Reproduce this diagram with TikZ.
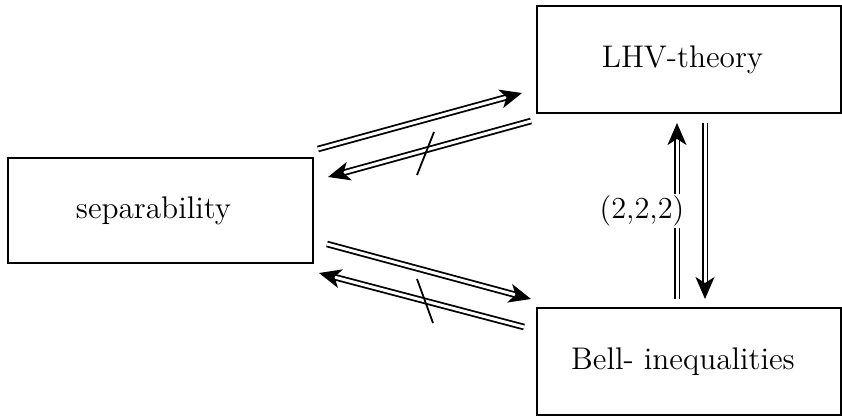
\documentclass[tikz,border=0pt]{standalone}
\usepackage{fontspec}
\setmainfont{lmroman12-regular}[Extension=.otf]
\usetikzlibrary{arrows.meta,calc}
\begin{document}
\begin{tikzpicture}[x=1pt,y=-1pt,
  box/.style={draw, line width=2pt, minimum width=304pt, minimum height=106pt, inner sep=0pt, font=\fontsize{31.3}{37}\selectfont},
  dbl/.style={double, double distance=3pt, line width=1.8pt, -{Stealth[length=22pt, width=19pt, inset=6pt]}},
  slash/.style={line width=1.8pt},
  lbl/.style={fill=white, inner sep=2pt, font=\fontsize{30.5}{36}\selectfont}]
\useasboundingbox (0,0) rectangle (842,416);
\node[box, minimum width=305pt, minimum height=105pt] (sep) at (160.5,210.5) {\hspace*{-14pt}separability};
\node[box, minimum height=107pt] (lhv) at (689,59.5) {\hspace*{-13pt}LHV-theory};
\node[box, minimum height=107pt] (bell) at (689,361.5) {\hspace*{-12pt}Bell- inequalities};
% separability <-> LHV
\draw[dbl] ($(sep.north east)+(4,-8)$) -- ($(lhv.south west)+(-14,-21)$);
\draw[dbl] ($(lhv.south west)+(-5,7)$) coordinate (a2s) -- ($(sep.north east)+(14,20)$) coordinate (a2e);
\coordinate (m2) at ($(a2s)!0.5!(a2e)$);
\draw[slash] ($(m2)+(-12.5,26)$) -- ($(m2)+(4.5,-17)$);
% separability <-> Bell
\draw[dbl] ($(sep.south east)+(13,-20)$) -- ($(bell.north west)+(-5,-8)$);
\draw[dbl] ($(bell.north west)+(-12,20)$) coordinate (a4s) -- ($(sep.south east)+(5,9)$) coordinate (a4e);
\coordinate (m4) at ($(a4s)!0.5!(a4e)$);
\draw[slash] ($(m4)+(-4.5,-21)$) -- ($(m4)+(11.5,23)$);
% LHV <-> Bell
\draw[dbl] ($(bell.north)+(-12,-8)$) -- ($(lhv.south)+(-12,9)$) node[pos=0.5, lbl, xshift=-35pt] {(2,2,2)};
\draw[dbl] ($(lhv.south)+(16,9)$) -- ($(bell.north)+(16,-8)$);
\end{tikzpicture}
\end{document}
